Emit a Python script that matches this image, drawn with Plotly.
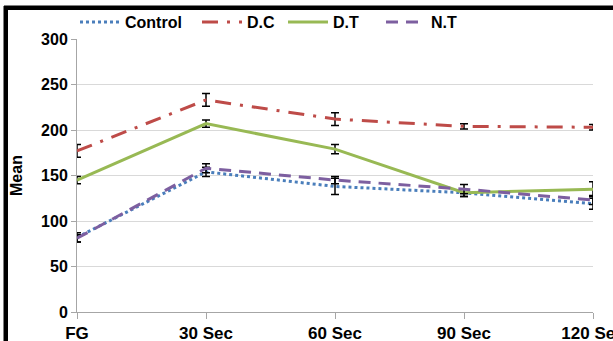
import plotly.graph_objects as go

categories = ["FG", "30 Sec", "60 Sec", "90 Sec", "120 Sec"]
control = [82, 154, 138, 131, 119]
control_err = [5, 5, 9, 4, 6]
dc = [177, 233, 212, 204, 203]
dc_err = [7, 7, 7, 3, 3]
dt = [145, 207, 179, 131, 135]
dt_err = [4, 4, 5, 4, 8]
nt = [81, 158, 145, 135, 123]
nt_err = [4, 5, 4, 5, 5]

series = [
    ("Control", control, control_err, "#4A7EBB", "dot", "legend"),
    ("D.C", dc, dc_err, "#BE4B48", "16px,9px,3px,9px", "legend2"),
    ("D.T", dt, dt_err, "#98B954", "solid", "legend3"),
    ("N.T", nt, nt_err, "#7D5FA0", "12px,8px", "legend4"),
]

fig = go.Figure()
for name, vals, err, color, dash, lg in series:
    fig.add_trace(go.Scatter(
        x=list(range(len(categories))), y=vals, name=name, mode="lines",
        line=dict(color=color, width=3, dash=dash), legend=lg,
        error_y=dict(type="data", array=err, color="black", thickness=1.5, width=4),
    ))

W, H = 613, 341
L, R, T, B = 77, 20, 39, 29
pw, ph = W - L - R, H - T - B

def px_x(p):
    return (p - L) / pw

def px_y(p):
    return (H - B - p) / ph

legend_font = dict(family="Liberation Sans", size=16, color="black", weight="bold")

def leg(xpx):
    return dict(orientation="h", x=px_x(xpx), y=px_y(22), xanchor="left", yanchor="middle",
                font=legend_font, bgcolor="rgba(0,0,0,0)", itemwidth=40)

fig.update_layout(
    width=W, height=H,
    margin=dict(l=L, r=R, t=T, b=B, autoexpand=False),
    paper_bgcolor="white", plot_bgcolor="white",
    font=dict(family="Liberation Sans", size=16, color="black"),
    showlegend=True,
    legend=leg(75), legend2=leg(197), legend3=leg(283), legend4=leg(381),
    xaxis=dict(
        tickmode="array", tickvals=list(range(len(categories))), ticktext=categories,
        range=[0, 4], showgrid=False, showline=True, linecolor="#A6A6A6", linewidth=1,
        ticks="outside", ticklen=6, tickcolor="#A6A6A6", zeroline=False,
        ticklabeloverflow="allow", automargin=False,
        tickfont=dict(family="Liberation Sans", size=17, weight="bold"),
    ),
    yaxis=dict(
        range=[0, 300], dtick=50, showgrid=True, gridcolor="#D9D9D9", gridwidth=1,
        showline=True, linecolor="#A6A6A6", linewidth=1, ticks="outside", ticklen=5,
        tickcolor="#A6A6A6", zeroline=False, automargin=False,
        tickfont=dict(family="Liberation Sans", size=16, weight="bold"),
        title=dict(text="Mean", font=dict(family="Liberation Sans", size=16, weight="bold"), standoff=14),
    ),
    shapes=[
        dict(type="line", xref="paper", yref="paper", x0=px_x(5), x1=px_x(5), y0=px_y(6), y1=px_y(360),
             line=dict(color="black", width=3), layer="above"),
        dict(type="line", xref="paper", yref="paper", x0=px_x(4), x1=px_x(640), y0=px_y(7), y1=px_y(7),
             line=dict(color="black", width=3), layer="above"),
    ],
    annotations=[
        dict(text=" ", xref="paper", yref="paper", x=px_x(5), y=px_y(7), xanchor="left", yanchor="top",
             width=700, height=400, showarrow=False, bordercolor="black", borderwidth=3, borderpad=0,
             bgcolor="rgba(0,0,0,0)"),
    ],
)

fig.write_html("out.html", config={"displayModeBar": False},
               post_script="document.body.style.margin='0';document.body.style.overflow='hidden';")
